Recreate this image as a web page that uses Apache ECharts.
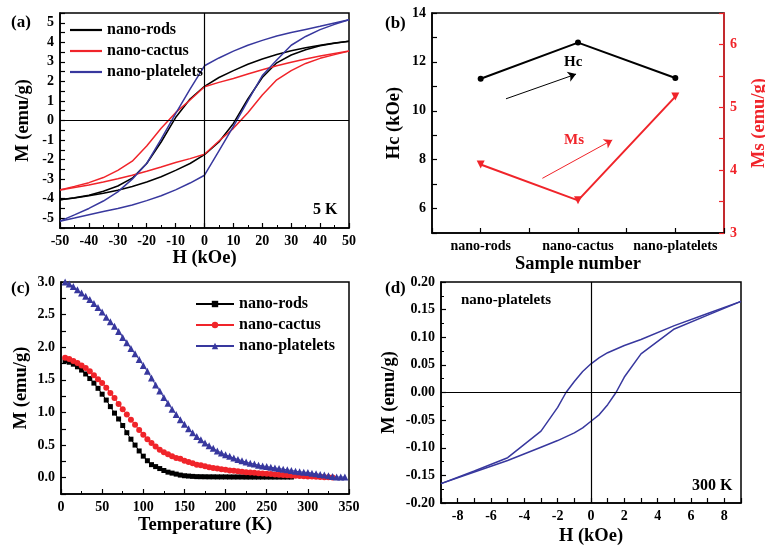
<!DOCTYPE html>
<html>
<head>
<meta charset="utf-8">
<script src="https://cdn.jsdelivr.net/npm/echarts@6/dist/echarts.min.js"></script>
<style>html,body{margin:0;padding:0;background:#fff}#c{width:765px;height:545px}</style>
</head>
<body>
<div id="c"></div>
<script>
// ---------- Panel (a): M-H loops at 5 K ----------
var fieldDown = [50,45,40,35,30,25,20,15,10,5,0,-5,-10,-15,-20,-25,-30,-35,-40,-45,-50];
var fieldUp   = [-50,-45,-40,-35,-30,-25,-20,-15,-10,-5,0,5,10,15,20,25,30,35,40,45,50];
var rodsDown  = [4.05,3.96,3.85,3.72,3.57,3.38,3.15,2.88,2.55,2.2,1.75,1.1,0.15,-1.1,-2.2,-2.95,-3.35,-3.62,-3.82,-3.95,-4.05];
var rodsUp    = [-4.05,-3.96,-3.85,-3.72,-3.57,-3.38,-3.15,-2.88,-2.55,-2.2,-1.75,-1.1,-0.15,1.1,2.2,2.95,3.35,3.62,3.82,3.95,4.05];
var cactusDown= [3.55,3.43,3.3,3.15,2.98,2.8,2.6,2.38,2.15,1.95,1.73,1.05,0.4,-0.4,-1.3,-2.08,-2.55,-2.92,-3.18,-3.37,-3.55];
var cactusUp  = [-3.55,-3.43,-3.3,-3.15,-2.98,-2.8,-2.6,-2.38,-2.15,-1.95,-1.73,-1.05,-0.4,0.4,1.3,2.08,2.55,2.92,3.18,3.37,3.55];
var platDown  = [5.15,4.99,4.82,4.66,4.5,4.32,4.1,3.85,3.55,3.2,2.8,1.6,0.35,-0.95,-2.2,-3.0,-3.65,-4.12,-4.5,-4.83,-5.15];
var platUp    = [-5.15,-4.99,-4.82,-4.66,-4.5,-4.32,-4.1,-3.85,-3.55,-3.2,-2.8,-1.55,-0.3,1.0,2.3,3.1,3.85,4.3,4.65,4.92,5.15];

// ---------- Panel (b): Hc and Ms vs sample ----------
var samples = ['nano-rods','nano-cactus','nano-platelets'];
var hcValues = [11.31, 12.79, 11.34];
var msValues = [4.09, 3.52, 5.17];

// ---------- Panel (c): M-T curves ----------
var temps = [5,10,15,20,25,30,35,40,45,50,55,60,65,70,75,80,85,90,95,100,105,110,115,120,125,130,135,140,145,150,155,160,165,170,175,180,185,190,195,200,205,210,215,220,225,230,235,240,245,250,255,260,265,270,275,280,285,290,295,300,305,310,315,320,325,330,335,340,345];
var rodsMT = [1.79,1.77,1.74,1.70,1.65,1.59,1.52,1.45,1.37,1.28,1.19,1.09,0.99,0.90,0.80,0.69,0.59,0.50,0.41,0.33,0.26,0.20,0.17,0.14,0.11,0.085,0.07,0.055,0.04,0.03,0.025,0.02,0.016,0.015,0.014,0.013,0.013,0.012,0.012,0.012,0.011,0.011,0.011,0.011,0.010,0.010,0.010,0.010,0.010,0.010,0.010,0.010,0.010,0.010,0.010,0.010];
var cactusMT = [1.84,1.82,1.79,1.76,1.72,1.68,1.63,1.57,1.51,1.45,1.38,1.30,1.22,1.13,1.05,0.97,0.89,0.81,0.73,0.66,0.59,0.53,0.48,0.43,0.39,0.36,0.33,0.30,0.29,0.26,0.24,0.22,0.20,0.19,0.175,0.16,0.15,0.14,0.13,0.12,0.11,0.105,0.10,0.09,0.085,0.08,0.075,0.07,0.065,0.06,0.055,0.05,0.045,0.04,0.037,0.034,0.03,0.027,0.024,0.02,0.017,0.014,0.011,0.008,0.005,0.004];
var platMT = [3.00,2.97,2.93,2.88,2.83,2.78,2.73,2.67,2.61,2.54,2.46,2.39,2.32,2.24,2.15,2.07,1.98,1.90,1.81,1.72,1.63,1.53,1.42,1.33,1.23,1.14,1.05,0.97,0.89,0.82,0.75,0.69,0.63,0.58,0.53,0.49,0.45,0.41,0.38,0.35,0.33,0.30,0.28,0.26,0.24,0.22,0.21,0.19,0.18,0.17,0.16,0.15,0.14,0.13,0.12,0.11,0.10,0.09,0.085,0.08,0.07,0.06,0.05,0.04,0.03,0.02,0.01,0.01,0.01];

// ---------- Panel (d): M-H loop at 300 K ----------
var dFieldDown = [9,7,5,3,2,1,0.5,0,-0.5,-1,-1.5,-2,-3,-5,-7,-9];
var dMDown     = [0.165,0.143,0.121,0.096,0.085,0.072,0.063,0.052,0.038,0.02,0.0,-0.027,-0.07,-0.118,-0.142,-0.165];
var dFieldUp   = [-9,-7,-5,-3,-2,-1,-0.5,0,0.5,1,1.5,2,3,5,7,9];
var dMUp       = [-0.165,-0.144,-0.123,-0.099,-0.087,-0.073,-0.064,-0.052,-0.04,-0.022,0.0,0.028,0.07,0.115,0.14,0.165];

var BLACK = '#000000', RED = '#f0242a', BLUE = '#38389e';
var FONT = 'Liberation Serif';

function zip(xs, ys) { return ys.map(function (y, i) { return [xs[i], y]; }); }
function clean(v) { return Math.abs(v) < 1e-9 ? 0 : v; }
function isMult(v, s) { var q = v / s; return Math.abs(q - Math.round(q)) < 1e-6; }

var tickLabel = { fontFamily: FONT, fontWeight: 'bold', fontSize: 14, color: '#000' };
var nameStyle = { fontFamily: FONT, fontWeight: 'bold', fontSize: 18.5, color: '#000' };

function vAxis(grid, o) {
  var base = {
    gridIndex: grid, type: 'value',
    axisLine: { show: true, onZero: false, lineStyle: { color: o.color || BLACK, width: 1.5 } },
    axisTick: { show: true, inside: true, length: 5, lineStyle: { color: o.color || BLACK, width: 1.2 } },
    minorTick: { show: !!o.minor, splitNumber: 2, length: 3, lineStyle: { color: o.color || BLACK, width: 1 } },
    splitLine: { show: false },
    axisLabel: Object.assign({}, tickLabel, { color: o.color || '#000', margin: 6 }),
    nameTextStyle: Object.assign({}, nameStyle, { color: o.color || '#000' }),
    nameLocation: 'middle'
  };
  for (var k in o) { if (k !== 'color' && k !== 'minor') base[k] = o[k]; }
  if (o.formatter) { base.axisLabel.formatter = o.formatter; delete base.formatter; }
  return base;
}

var originLines = {
  silent: true, symbol: 'none', label: { show: false },
  lineStyle: { color: BLACK, width: 1.2, type: 'solid' },
  data: [{ xAxis: 0 }, { yAxis: 0 }]
};

function loopSeries(name, xs, ys, color, extra) {
  var s = {
    name: name, type: 'line', xAxisIndex: 0, yAxisIndex: 0,
    data: zip(xs, ys), symbol: 'none', smooth: false,
    lineStyle: { color: color, width: 1.5 }, itemStyle: { color: color },
    emphasis: { disabled: true }
  };
  if (extra) Object.assign(s, extra);
  return s;
}

var lineIcon = 'path://M0,0 L32,0 L32,2.2 L0,2.2 Z';
function gridBox(l, t, w, h) {
  return { left: l, top: t, width: w, height: h, show: true, borderColor: '#000', borderWidth: 1.5,
           containLabel: false, outerBoundsMode: 'none' };
}

var option = {
  animation: false,
  backgroundColor: '#fff',
  grid: [
    gridBox(60, 13, 289, 215),
    gridBox(432, 13, 292, 220),
    gridBox(61, 282, 288, 212),
    gridBox(441, 282, 300, 221)
  ],
  xAxis: [
    vAxis(0, { min: -50, max: 50, interval: 10, minor: true, name: 'H (kOe)', nameGap: 16 }),
    vAxis(1, { min: 0.5, max: 3.5, interval: 0.5, name: 'Sample number', nameGap: 22,
      formatter: function (v) { return isMult(v, 1) ? samples[Math.round(v) - 1] : ''; } }),
    vAxis(2, { min: 0, max: 350, interval: 50, minor: true, name: 'Temperature (K)', nameGap: 22 }),
    vAxis(3, { min: -9, max: 9, interval: 1, name: 'H (kOe)', nameGap: 24,
      formatter: function (v) { v = clean(v); return isMult(v, 2) ? String(Math.round(v)) : ''; } })
  ],
  yAxis: [
    vAxis(0, { min: -5.5, max: 5.5, interval: 0.5, name: 'M (emu/g)', nameGap: 27,
      formatter: function (v) { v = clean(v); return isMult(v, 1) ? String(Math.round(v)) : ''; } }),
    vAxis(1, { min: 5, max: 14, interval: 1, name: 'Hc (kOe)', nameGap: 28,
      formatter: function (v) { return isMult(v, 2) ? String(Math.round(v)) : ''; } }),
    vAxis(1, { min: 3, max: 6.5, interval: 0.5, position: 'right', color: RED, name: 'Ms (emu/g)', nameGap: 26,
      formatter: function (v) { return isMult(v, 1) ? String(Math.round(v)) : ''; } }),
    vAxis(2, { min: -0.25, max: 3.0, interval: 0.25, name: 'M (emu/g)', nameGap: 30,
      formatter: function (v) { v = clean(v); return isMult(v, 0.5) ? v.toFixed(1) : ''; } }),
    vAxis(3, { min: -0.2, max: 0.2, interval: 0.05, minor: true, name: 'M (emu/g)', nameGap: 42,
      formatter: function (v) { return clean(v).toFixed(2); } })
  ],
  legend: [
    { left: 65, top: 17, orient: 'vertical', itemWidth: 32, itemHeight: 3, itemGap: 5,
      data: [{ name: 'a:nano-rods', icon: lineIcon }, { name: 'a:nano-cactus', icon: lineIcon }, { name: 'a:nano-platelets', icon: lineIcon }],
      formatter: function (n) { return n.split(':')[1]; },
      textStyle: { fontFamily: FONT, fontWeight: 'bold', fontSize: 16, color: '#000' },
      selectedMode: false },
    { left: 190, top: 291, orient: 'vertical', itemWidth: 38, itemHeight: 8, itemGap: 5,
      data: ['c:nano-rods', 'c:nano-cactus', 'c:nano-platelets'],
      formatter: function (n) { return n.split(':')[1]; },
      textStyle: { fontFamily: FONT, fontWeight: 'bold', fontSize: 16, color: '#000' },
      selectedMode: false }
  ],
  series: [
    // (a)
    loopSeries('a:nano-rods', fieldDown, rodsDown, BLACK, { markLine: originLines }),
    loopSeries('a:nano-rods', fieldUp, rodsUp, BLACK),
    loopSeries('a:nano-cactus', fieldDown, cactusDown, RED),
    loopSeries('a:nano-cactus', fieldUp, cactusUp, RED),
    loopSeries('a:nano-platelets', fieldDown, platDown, BLUE),
    loopSeries('a:nano-platelets', fieldUp, platUp, BLUE),
    // (b)
    { name: 'Hc', type: 'line', xAxisIndex: 1, yAxisIndex: 1,
      data: hcValues.map(function (v, i) { return [i + 1, v]; }),
      symbol: 'circle', symbolSize: 6, lineStyle: { color: BLACK, width: 2 }, itemStyle: { color: BLACK },
      emphasis: { disabled: true },
      markLine: { silent: true, symbol: ['none', 'arrow'], symbolSize: 8, label: { show: false },
        lineStyle: { color: BLACK, width: 1, type: 'solid' },
        data: [[{ coord: [1.26, 10.49] }, { coord: [1.98, 11.5] }]] } },
    { name: 'Ms', type: 'line', xAxisIndex: 1, yAxisIndex: 2,
      data: msValues.map(function (v, i) { return [i + 1, v]; }),
      symbol: 'triangle', symbolRotate: 180, symbolSize: 8, lineStyle: { color: RED, width: 2 }, itemStyle: { color: RED },
      emphasis: { disabled: true },
      markLine: { silent: true, symbol: ['none', 'arrow'], symbolSize: 8, label: { show: false },
        lineStyle: { color: RED, width: 1, type: 'solid' },
        data: [[{ coord: [1.634, 3.87] }, { coord: [2.352, 4.48] }]] } },
    // (c)
    { name: 'c:nano-rods', type: 'line', xAxisIndex: 2, yAxisIndex: 3, data: zip(temps, rodsMT),
      symbol: 'rect', symbolSize: 5, lineStyle: { color: BLACK, width: 1 }, itemStyle: { color: BLACK }, emphasis: { disabled: true } },
    { name: 'c:nano-cactus', type: 'line', xAxisIndex: 2, yAxisIndex: 3, data: zip(temps, cactusMT),
      symbol: 'circle', symbolSize: 6, lineStyle: { color: RED, width: 1 }, itemStyle: { color: RED }, emphasis: { disabled: true } },
    { name: 'c:nano-platelets', type: 'line', xAxisIndex: 2, yAxisIndex: 3, data: zip(temps, platMT),
      symbol: 'triangle', symbolSize: 7, lineStyle: { color: BLUE, width: 1 }, itemStyle: { color: BLUE }, emphasis: { disabled: true } },
    // (d)
    { name: 'd-down', type: 'line', xAxisIndex: 3, yAxisIndex: 4, data: zip(dFieldDown, dMDown), symbol: 'none',
      lineStyle: { color: BLUE, width: 1.5 }, emphasis: { disabled: true }, markLine: originLines },
    { name: 'd-up', type: 'line', xAxisIndex: 3, yAxisIndex: 4, data: zip(dFieldUp, dMUp), symbol: 'none',
      lineStyle: { color: BLUE, width: 1.5 }, emphasis: { disabled: true } }
  ],
  graphic: [
    { type: 'text', left: 11, top: 14, style: { text: '(a)', font: 'bold 17px ' + FONT, fill: '#000' } },
    { type: 'text', left: 385, top: 15, style: { text: '(b)', font: 'bold 17px ' + FONT, fill: '#000' } },
    { type: 'text', left: 11, top: 280, style: { text: '(c)', font: 'bold 17px ' + FONT, fill: '#000' } },
    { type: 'text', left: 385, top: 280, style: { text: '(d)', font: 'bold 17px ' + FONT, fill: '#000' } },
    { type: 'text', left: 313, top: 202, style: { text: '5 K', font: 'bold 16px ' + FONT, fill: '#000' } },
    { type: 'text', left: 692, top: 478, style: { text: '300 K', font: 'bold 16px ' + FONT, fill: '#000' } },
    { type: 'text', left: 461, top: 293, style: { text: 'nano-platelets', font: 'bold 15px ' + FONT, fill: '#000' } },
    { type: 'text', left: 564, top: 55, style: { text: 'Hc', font: 'bold 15px ' + FONT, fill: '#000' } },
    { type: 'text', left: 564, top: 133, style: { text: 'Ms', font: 'bold 15px ' + FONT, fill: RED } }
  ]
};

var chart = echarts.init(document.getElementById('c'), null, { renderer: 'canvas' });
chart.setOption(option);
</script>
</body>
</html>
